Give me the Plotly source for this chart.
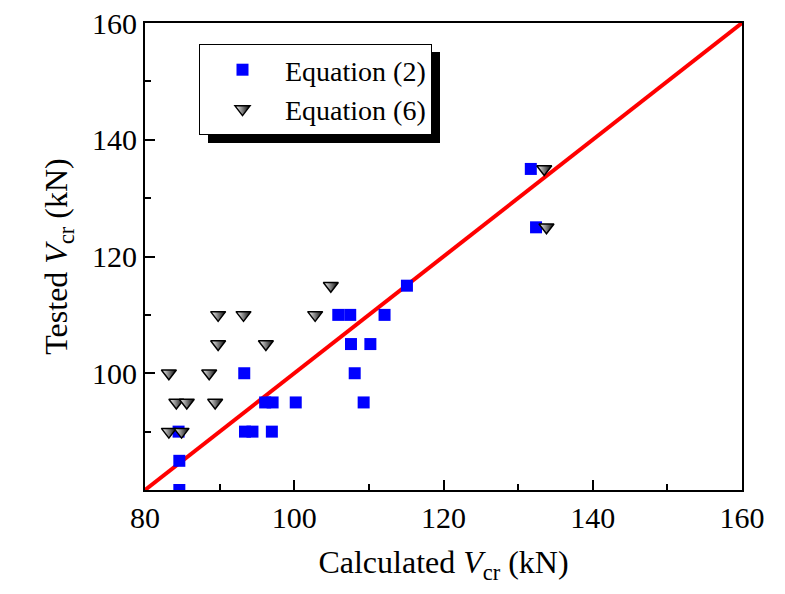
import plotly.graph_objects as go

# Equation (2): calculated vs tested
eq2_calc = [84.6, 84.6, 84.5, 93.3, 93.4, 94.4, 97.0, 96.1, 97.1, 100.2,
            105.9, 107.5, 112.1, 107.6, 110.2, 108.1, 109.3, 115.1, 131.7, 132.4]
eq2_test = [80, 85, 90, 100, 90, 90, 90, 95, 95, 95,
            110, 110, 110, 105, 105, 100, 95, 115, 135, 125]

# Equation (6): calculated vs tested
eq6_calc = [83.2, 88.6, 84.2, 85.6, 89.4, 83.2, 84.9, 89.8, 96.2, 89.8,
            93.2, 102.8, 104.9, 133.5, 133.8]
eq6_test = [100, 100, 95, 95, 95, 90, 90, 105, 105, 110,
            110, 110, 115, 135, 125]

# 1:1 reference line
ref_x = [80, 160]
ref_y = [80, 160]

x_ticks = [80, 100, 120, 140, 160]
y_ticks = [100, 120, 140, 160]

FONT = "Liberation Serif"

fig = go.Figure()
fig.add_trace(go.Scatter(x=ref_x, y=ref_y, mode="lines",
                         line=dict(color="#ff0000", width=4), showlegend=False))
fig.add_trace(go.Scatter(x=eq2_calc, y=eq2_test, mode="markers", name="Equation (2)",
                         marker=dict(symbol="square", size=12, color="#0000ff",
                                     line=dict(width=0))))
fig.add_trace(go.Scatter(x=eq6_calc, y=eq6_test, mode="markers", name="Equation (6)",
                         marker=dict(symbol="triangle-down", size=13, color="white",
                                     gradient=dict(type="horizontal", color="black"),
                                     line=dict(color="black", width=1.5))))

axis_common = dict(showgrid=False, zeroline=False, showline=True, linecolor="black",
                   linewidth=2, mirror=True, ticks="inside", tickcolor="black",
                   tickwidth=1.5, ticklen=10, automargin=False,
                   minor=dict(ticks="inside", ticklen=6, tickcolor="black", tickwidth=1.5,
                              dtick=10),
                   tickfont=dict(family=FONT, size=30, color="black"))

fig.update_xaxes(range=[80, 160], tickvals=x_ticks, **axis_common,
                 title=dict(text="Calculated <i>V</i><sub>cr</sub> (kN)",
                            font=dict(family=FONT, size=32, color="black"), standoff=18))
fig.update_yaxes(range=[80, 160], tickvals=y_ticks, **axis_common,
                 title=dict(text="Tested <i>V</i><sub>cr</sub> (kN)",
                            font=dict(family=FONT, size=32, color="black"), standoff=15))

# legend drop shadow
fig.add_shape(type="rect", xref="paper", yref="paper",
              x0=(208 - 145) / 597, x1=(440 - 145) / 597,
              y0=(490 - 143) / 467, y1=(490 - 52) / 467,
              fillcolor="black", line=dict(width=0), layer="above")

fig.update_layout(
    width=785, height=594,
    margin=dict(l=145, r=43, t=23, b=104),
    plot_bgcolor="white", paper_bgcolor="white",
    font=dict(family=FONT, color="black"),
    legend=dict(x=(199 - 145) / 597, y=(490 - 44) / 467, xanchor="left", yanchor="top",
                bgcolor="white", bordercolor="black", borderwidth=1,
                font=dict(family=FONT, size=28, color="black"),
                itemwidth=75, tracegroupgap=0),
)

fig.write_html("out.html", config={"displayModeBar": False},
               post_script="document.body.style.margin='0px';")
